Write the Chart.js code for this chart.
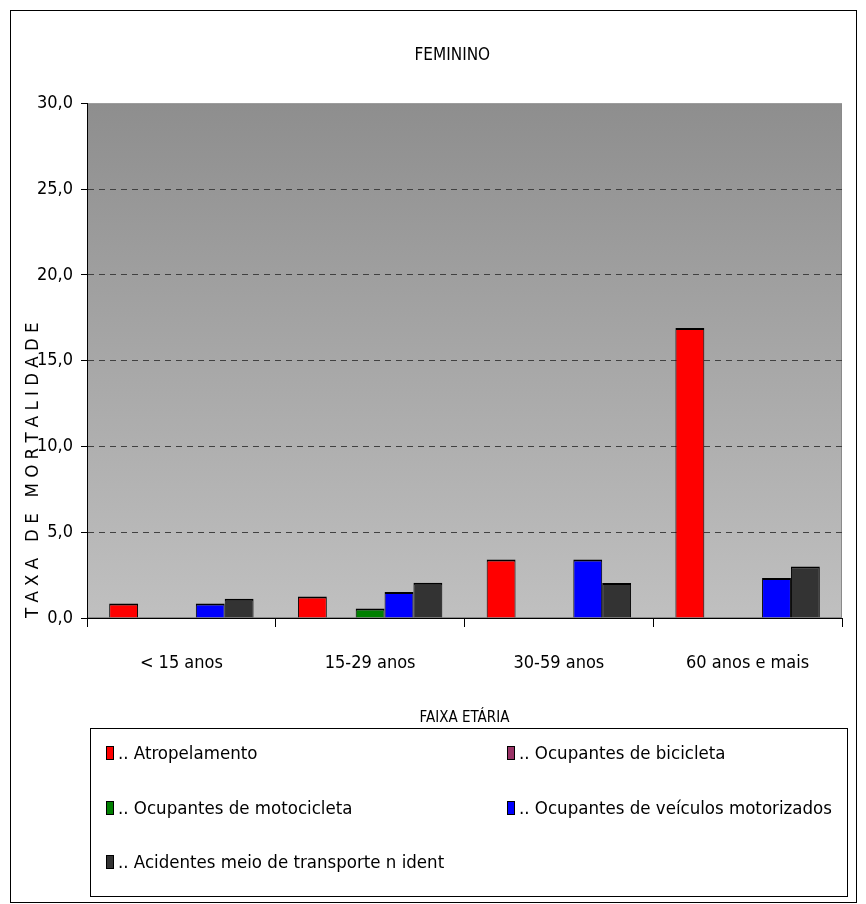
<!DOCTYPE html>
<html>
<head>
<meta charset="utf-8">
<script src="https://cdn.jsdelivr.net/npm/chart.js@4.4.1/dist/chart.umd.min.js"></script>
<style>
  body { margin: 0; background: #fff; }
  #frame { position: absolute; left: 10px; top: 10px; width: 847px; height: 893px; border: 1px solid #000; box-sizing: border-box; }
  #chart { position: absolute; left: 0; top: 0; }
  #legend { position: absolute; left: 90px; top: 728px; width: 758px; height: 169px; border: 1px solid #000; box-sizing: border-box;
            font: 18.5px 'Liberation Sans Narrow', 'DejaVu Sans Condensed', sans-serif; color: #000; }
  .item { position: absolute; display: flex; align-items: center; white-space: nowrap; }
  .sw { width: 6px; height: 12px; border: 1px solid #000; margin-right: 4px; }
</style>
</head>
<body>
<div id="frame"></div>
<canvas id="chart" width="866" height="904"></canvas>
<div id="legend"></div>
<script>
const categories = ['< 15 anos', '15-29 anos', '30-59 anos', '60 anos e mais'];
const seriesNames = ['.. Atropelamento', '.. Ocupantes de bicicleta', '.. Ocupantes de motocicleta',
  '.. Ocupantes de veículos motorizados', '.. Acidentes meio de transporte n ident'];
const atropelamento = [0.85, 1.26, 3.41, 16.9];
const bicicleta = [0, 0, 0, 0];
const motocicleta = [0, 0.56, 0, 0];
const veiculos = [0.85, 1.51, 3.41, 2.33];
const naoIdent = [1.12, 2.05, 2.04, 3.0];
const yTicks = [0, 5, 10, 15, 20, 25, 30];
const colors = ['#ff0000', '#993366', '#008000', '#0000ff', '#333333'];

const FONT = "'Liberation Sans Narrow', 'DejaVu Sans Condensed', sans-serif";
Chart.defaults.font.family = FONT;
Chart.defaults.color = '#000';

// fundo cinza em degradê da área de plotagem
const plotBg = {
  id: 'plotBg',
  beforeDraw(chart) {
    const { ctx, chartArea: a } = chart;
    const g = ctx.createLinearGradient(0, a.top, 0, a.bottom);
    g.addColorStop(0, '#8e8e8e');
    g.addColorStop(1, '#c0c0c0');
    ctx.save();
    ctx.fillStyle = g;
    ctx.fillRect(a.left, a.top, a.right - a.left, a.bottom - a.top);
    ctx.strokeStyle = '#8a8a8a';
    ctx.lineWidth = 1;
    ctx.strokeRect(a.left + 0.5, a.top + 0.5, a.right - a.left - 1, a.bottom - a.top - 1);
    ctx.restore();
  }
};

const allData = [atropelamento, bicicleta, motocicleta, veiculos, naoIdent];

function draw() {
  const chart = new Chart(document.getElementById('chart'), {
    type: 'bar',
    data: {
      labels: categories,
      datasets: allData.map((d, i) => ({
        label: seriesNames[i],
        data: d,
        backgroundColor: colors[i],
        borderColor: '#000',
        borderWidth: { top: 2, left: 1, right: 1, bottom: 0 },
        categoryPercentage: 0.765,
        barPercentage: 1.0
      }))
    },
    options: {
      responsive: false,
      animation: false,
      layout: { padding: { left: 0, right: 24, top: 0, bottom: 173 } },
      plugins: {
        legend: { display: false },
        tooltip: { enabled: false },
        title: {
          display: true,
          fullSize: false,
          text: 'FEMININO\u00a0\u00a0\u00a0\u00a0\u00a0',
          color: '#000',
          font: { size: 17, weight: 'normal' },
          padding: { top: 45, bottom: 38 }
        }
      },
      scales: {
        x: {
          afterFit: (a) => { a.height = 113; },
          grid: { offset: true, drawOnChartArea: false, tickLength: 9, color: '#000' },
          border: { color: '#000' },
          ticks: { color: '#000', font: { size: 18 }, padding: 26, maxRotation: 0 },
          title: {
            display: true, text: 'FAIXA ETÁRIA', color: '#000',
            font: { size: 15 }, padding: { top: 7, bottom: 4 }
          }
        },
        y: {
          min: 0,
          max: 30,
          afterBuildTicks: (a) => { a.ticks = yTicks.map(v => ({ value: v })); },
          afterFit: (a) => { a.width = 87; },
          grid: {
            color: (c) => (c.tick && (c.tick.value === 0 || c.tick.value === 30)) ? 'rgba(0,0,0,0)' : '#404040',
            tickColor: '#000',
            tickLength: 6
          },
          border: { color: '#000', dash: [6, 5] },
          ticks: {
            color: '#000', font: { size: 18 }, padding: 8,
            callback: (v) => v.toFixed(1).replace('.', ',')
          },
          title: {
            display: true,
            text: 'T A X A   D E   M O R T A L I D A D E',
            align: 'start',
            color: '#000',
            font: { size: 18.5 },
            padding: { top: 22, bottom: 0 }
          }
        }
      }
    },
    plugins: [plotBg]
  });

  // legenda em duas colunas, montada a partir dos datasets
  const legend = document.getElementById('legend');
  const spots = [[15, 25], [416, 25], [15, 80], [416, 80], [15, 134]];
  chart.data.datasets.forEach((ds, i) => {
    const el = document.createElement('div');
    el.className = 'item';
    el.style.left = spots[i][0] + 'px';
    el.style.top = (spots[i][1] - 12) + 'px';
    el.innerHTML = '<span class="sw" style="background:' + ds.backgroundColor + '"></span><span></span>';
    el.lastChild.textContent = ds.label;
    legend.appendChild(el);
  });
}

Promise.all([
  document.fonts.load("18px 'Liberation Sans Narrow'"),
  document.fonts.load("18px 'DejaVu Sans Condensed'")
]).then(draw, draw);
</script>
</body>
</html>
